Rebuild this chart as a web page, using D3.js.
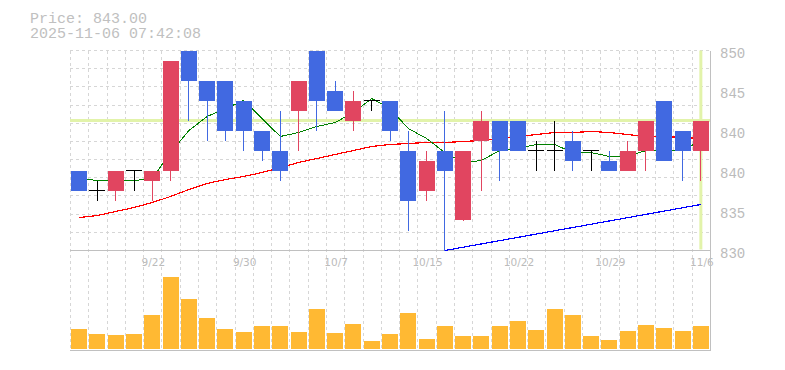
<!DOCTYPE html>
<html><head><meta charset="utf-8">
<script src="https://cdn.jsdelivr.net/npm/d3@7"></script>
<style>
html,body{margin:0;padding:0;background:#fff;}
svg{display:block;}
</style></head><body>
<svg id="chart" width="785" height="370"></svg>
<script>
const dates = ["9/16","9/17","9/18","9/19","9/22","9/24","9/25","9/26","9/29","9/30","10/1","10/2","10/3","10/6","10/7","10/8","10/9","10/10","10/14","10/15","10/16","10/17","10/20","10/21","10/22","10/23","10/24","10/27","10/28","10/29","10/30","10/31","11/4","11/5","11/6"];
const openP  = [838,836,836,838,837,838,850,847,847,845,842,840,844,850,846,843,845,845,840,836,840,833,841,843,843,840,840,841,840,839,838,840,845,842,840];
const highP  = [838,837,838,838,838,849,850,847,847,845,842,844,847,850,847,846,845,845,842,840,844,840,844,843,843,841,843,842,840,840,841,843,845,842,843];
const lowP   = [836,835,835,836,835,837,843,841,841,840,839,837,840,842,844,842,844,841,832,835,830,833,836,837,840,838,838,838,838,838,838,838,839,837,837];
const closeP = [836,836,838,838,838,849,847,845,842,842,840,838,847,845,844,845,845,842,835,839,838,840,843,840,840,840,840,839,840,838,840,843,839,840,843];
const volume = [20,15,14,15,34,72,50,31,20,17,23,23,17,40,16,25,8,15,36,10,23,13,13,23,28,19,40,34,13,9,18,24,21,18,23];
const ma5  = [837.2,837.0,837.0,837.0,837.2,839.8,842.0,843.4,844.2,845.0,843.2,841.4,841.8,842.4,842.8,843.8,845.2,844.2,842.2,841.2,839.8,838.8,839.0,840.0,840.2,840.6,840.6,839.8,839.8,839.4,839.4,840.0,840.0,840.0,841.0];
const ma25 = [833.3,833.5,833.9,834.3,834.8,835.4,836.1,836.7,837.1,837.4,837.8,838.3,838.8,839.2,839.6,840.0,840.4,840.6,840.7,840.8,840.8,840.9,841.0,841.2,841.4,841.6,841.8,841.8,841.9,841.8,841.6,841.4,841.4,841.3,841.2];
const trendIdx = [20, 34];
const trendVal = [830, 834.6];
const yTickValues = [850,846,842,838,834,830];
const yTickLabels = ["850","845","840","840","835","830"];
const xLabelDates = ["9/22","9/30","10/7","10/15","10/22","10/29","11/6"];
const lastPrice = 843;
const stamp = "2025-11-06 07:42:08";

const svg = d3.select("#chart");
const L = 70, R = 710, T = 50.5, PB = 250.5, VB = 349, VBOT = 350.5;
const UP = "#e14560", DOWN = "#4169e1", DOJI = "#000";
const GRID = "#d6d6d6", AXIS = "#c0c0c0", TXT = "#bbbbbb";

const x = d3.scaleBand().domain(d3.range(dates.length)).range([L, R]).padding(0);
const cx = i => x(i) + x.bandwidth() / 2;
const px = v => Math.round(v) + 0.5;
const y = d3.scaleLinear().domain([830, 850]).range([PB, T]);
const yv = d3.scaleLinear().domain([0, 90]).range([VB, VB - 90]);

// grid
const g = svg.append("g").attr("shape-rendering", "crispEdges");
const vlines = d3.range(dates.length).map(i => x(i));
g.selectAll("line.vg").data(vlines).enter().append("line")
  .attr("x1", d => px(d)).attr("x2", d => px(d)).attr("y1", T).attr("y2", VBOT)
  .attr("stroke", GRID).attr("stroke-dasharray", "3,3");
const hl = d3.range(11).map(k => T + k * (PB - T) / 11);
g.selectAll("line.hg").data(hl).enter().append("line")
  .attr("x1", L).attr("x2", R).attr("y1", d => px(d - 0.5)).attr("y2", d => px(d - 0.5))
  .attr("stroke", GRID).attr("stroke-dasharray", "3,3");

// current price highlight
svg.append("line").attr("x1", L).attr("x2", R).attr("y1", y(lastPrice)).attr("y2", y(lastPrice))
  .attr("stroke", "#e2f3aa").attr("stroke-width", 3);
const li = dates.length - 1;
svg.append("line").attr("x1", cx(li)).attr("x2", cx(li)).attr("y1", T).attr("y2", PB - 1)
  .attr("stroke", "#e2f3aa").attr("stroke-width", 3);

// axis lines
g.append("line").attr("x1", L).attr("x2", R + 1).attr("y1", PB).attr("y2", PB).attr("stroke", AXIS);
g.append("line").attr("x1", L).attr("x2", R + 1).attr("y1", VBOT).attr("y2", VBOT).attr("stroke", AXIS);
g.append("line").attr("x1", R + 0.5).attr("x2", R + 0.5).attr("y1", T).attr("y2", VBOT).attr("stroke", AXIS);

// lines
const lineGen = d3.line().x(d => cx(d[0])).y(d => y(d[1]));
svg.append("path").datum(ma25.map((v, i) => [i, v])).attr("d", lineGen)
  .attr("fill", "none").attr("stroke", "#ff0000").attr("stroke-width", 1.2).attr("shape-rendering", "crispEdges");
svg.append("path").datum(ma5.map((v, i) => [i, v])).attr("d", lineGen)
  .attr("fill", "none").attr("stroke", "#008000").attr("stroke-width", 1).attr("shape-rendering", "crispEdges");
svg.append("path").datum(trendIdx.map((d, k) => [d, trendVal[k]])).attr("d", lineGen)
  .attr("fill", "none").attr("stroke", "#0000ff").attr("stroke-width", 1.2).attr("shape-rendering", "crispEdges");

// candles
const cg = svg.append("g").attr("shape-rendering", "crispEdges");
dates.forEach((d, i) => {
  const o = openP[i], c = closeP[i], h = highP[i], l = lowP[i];
  const col = c > o ? UP : (c < o ? DOWN : DOJI);
  const xc = px(cx(i) - 0.5);
  cg.append("line").attr("x1", xc).attr("x2", xc).attr("y1", y(h)).attr("y2", y(l)).attr("stroke", col);
  if (c === o) {
    cg.append("line").attr("x1", Math.round(cx(i) - 8)).attr("x2", Math.round(cx(i) + 8))
      .attr("y1", px(y(o) - 0.5)).attr("y2", px(y(o) - 0.5)).attr("stroke", DOJI);
  } else {
    const top = y(Math.max(o, c)), bot = y(Math.min(o, c));
    cg.append("rect").attr("x", Math.round(cx(i) - 8)).attr("width", 16)
      .attr("y", Math.round(top)).attr("height", Math.round(bot) - Math.round(top)).attr("fill", col);
  }
});

// volume
cg.selectAll("rect.vol").data(volume).enter().append("rect")
  .attr("x", (d, i) => Math.round(cx(i) - 8)).attr("width", 16)
  .attr("y", d => yv(d)).attr("height", d => VB - yv(d)).attr("fill", "#ffb933");

// y labels
svg.selectAll("text.yl").data(yTickValues).enter().append("text")
  .attr("x", 720).attr("y", d => y(d) + 7).text((d, i) => yTickLabels[i])
  .attr("font-family", "Liberation Mono, monospace").attr("font-size", 14).attr("fill", TXT);

// x labels
svg.selectAll("text.xl").data(xLabelDates).enter().append("text")
  .attr("x", d => cx(dates.indexOf(d)) + 1).attr("y", 266).attr("text-anchor", "middle").text(d => d)
  .attr("font-family", "DejaVu Sans, sans-serif").attr("font-size", 10.5).attr("fill", TXT);
// redraw right border over label
svg.append("line").attr("x1", R + 0.5).attr("x2", R + 0.5).attr("y1", T).attr("y2", VBOT).attr("stroke", AXIS).attr("shape-rendering", "crispEdges");

// header
svg.append("text").attr("x", 30).attr("y", 23).text("Price: " + lastPrice.toFixed(2))
  .attr("font-family", "Liberation Mono, monospace").attr("font-size", 15).attr("fill", "#c0c0c0");
svg.append("text").attr("x", 30).attr("y", 38).text(stamp)
  .attr("font-family", "Liberation Mono, monospace").attr("font-size", 15).attr("fill", "#c0c0c0");
</script>
</body></html>
